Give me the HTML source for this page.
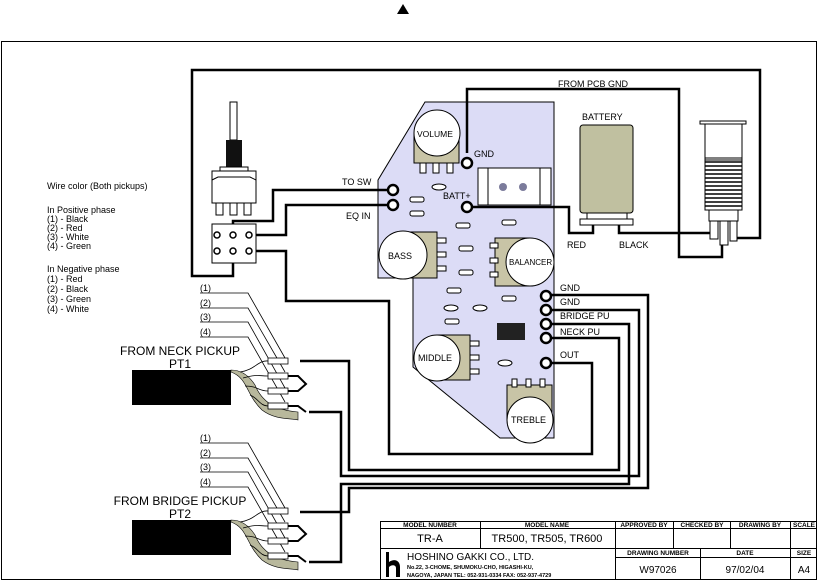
<!DOCTYPE html>
<html><head><meta charset="utf-8"><style>
html,body{margin:0;padding:0;background:#fff}
svg{display:block}
text{font-family:"Liberation Sans",sans-serif;fill:#000}
</style></head><body>
<svg width="818" height="581" viewBox="0 0 818 581" xmlns="http://www.w3.org/2000/svg">
<polygon points="403,4 409,14 397,14" fill="#000"/>
<rect x="1.5" y="41.5" width="815" height="538" fill="none" stroke="#000" stroke-width="1"/>

<!-- PCB -->
<polygon points="425,102 554,102 554,438 500,438 413,367 413,278 378,278 378,180" fill="#dcdcf6" stroke="#000" stroke-width="1"/>

<g fill="none" stroke="#000" stroke-width="2.5">
<!-- loop wire -->
<polyline points="233,262 233,276 192,276 192,70 760,70 760,238 735,238"/>
<!-- from pcb gnd -->
<polyline points="467,153 467,89 679,89 679,257 722,257 722,242"/>
<!-- batt+ red -->
<polyline points="467,207 569,207 569,233 593,233 593,224"/>
<!-- black -->
<polyline points="619,224 619,233 712,233"/>
<!-- to sw -->
<polyline points="391,190 273,190 273,221 233,221 233,235"/>
<!-- eq in -->
<polyline points="391,205 286,205 286,235 250,235"/>
<!-- switch lower right to out -->
<polyline points="250,251 286,251 286,301 389,301 389,454 592,454 592,363 548,363"/>
<!-- right pads -->
<polyline points="548,295 648,295 648,488 349,488 349,512 300,512"/>
<polyline points="548,310 639,310 639,476 341,476 341,412 309,412"/>
<polyline points="548,324 629,324 629,484 341,484 341,562 309,562"/>
<polyline points="548,338 619,338 619,470 349,470 349,361 300,361"/>
<line x1="214" y1="237" x2="214" y2="251"/>
</g>

<!-- switch -->
<rect x="230" y="102" width="7" height="38" fill="#fff" stroke="#000"/>
<rect x="226" y="140" width="16" height="30" fill="#111"/>
<rect x="220" y="167" width="28" height="5" fill="#fff" stroke="#000"/>
<rect x="212" y="171" width="44" height="32" fill="#fff" stroke="#000"/>
<polyline points="212,180 218,177 250,177 256,180" fill="none" stroke="#000"/>
<g fill="#fff" stroke="#000"><rect x="216" y="203" width="7" height="12"/><rect x="230" y="203" width="7" height="12"/><rect x="244" y="203" width="7" height="12"/></g>
<rect x="212" y="224" width="44" height="39" fill="#fff" stroke="#000"/>
<g fill="#fff" stroke="#000" stroke-width="1.5"><circle cx="217" cy="235" r="3"/><circle cx="233" cy="235" r="3"/><circle cx="249" cy="235" r="3"/><circle cx="217" cy="251" r="3"/><circle cx="233" cy="251" r="3"/><circle cx="249" cy="251" r="3"/></g>

<!-- PCB components -->
<g fill="#c8c4a6" stroke="#000">
<rect x="414" y="133" width="45" height="30"/>
<rect x="403" y="232" width="34" height="46"/>
<rect x="495" y="238" width="35" height="48"/>
<rect x="437" y="335" width="33" height="45"/>
<rect x="507" y="385" width="45" height="35"/>
</g>
<g fill="#fff" stroke="#000">
<rect x="420" y="163" width="6" height="10"/><rect x="433" y="163" width="6" height="10"/><rect x="447" y="163" width="6" height="10"/>
<rect x="437" y="238" width="9" height="5"/><rect x="437" y="252" width="9" height="5"/><rect x="437" y="266" width="9" height="5"/>
<rect x="490" y="243" width="8" height="5"/><rect x="490" y="258" width="8" height="5"/><rect x="490" y="272" width="8" height="5"/>
<rect x="470" y="341" width="9" height="5"/><rect x="470" y="355" width="9" height="5"/><rect x="470" y="369" width="9" height="5"/>
<rect x="512" y="379" width="5" height="8"/><rect x="526" y="379" width="5" height="8"/><rect x="540" y="379" width="5" height="8"/>
<circle cx="437" cy="133" r="23"/>
<circle cx="403" cy="255" r="24"/>
<circle cx="530" cy="262" r="24"/>
<circle cx="437" cy="358" r="23"/>
<circle cx="530" cy="420" r="23"/>
<rect x="478" y="168" width="73" height="37"/>
<line x1="488" y1="168" x2="488" y2="205"/><line x1="540" y1="168" x2="540" y2="205"/>
<ellipse cx="439" cy="187" rx="7" ry="3"/><ellipse cx="451" cy="308" rx="7" ry="3"/><ellipse cx="480" cy="308" rx="7" ry="3"/><ellipse cx="505" cy="363" rx="7" ry="3"/>
</g>
<circle cx="503" cy="187" r="4" fill="#7b7b9b"/><circle cx="523" cy="187" r="4" fill="#7b7b9b"/>
<rect x="497" y="323" width="28" height="17" fill="#222"/>
<g fill="#fff" stroke="#000" stroke-width="1">
<rect x="410" y="197" width="14" height="5" rx="2"/><rect x="410" y="211" width="14" height="5" rx="2"/>
<rect x="456" y="223" width="14" height="5" rx="2"/><rect x="502" y="220" width="14" height="5" rx="2"/>
<rect x="459" y="246" width="14" height="5" rx="2"/><rect x="459" y="270" width="14" height="5" rx="2"/>
<rect x="447" y="288" width="14" height="5" rx="2"/><rect x="502" y="296" width="14" height="5" rx="2"/>
<rect x="445" y="319" width="14" height="5" rx="2"/>
</g>
<g fill="#fff" stroke="#000" stroke-width="2.5">
<circle cx="393" cy="190" r="5"/><circle cx="393" cy="205" r="5"/><circle cx="467" cy="163" r="5"/><circle cx="467" cy="207" r="5"/>
<circle cx="546" cy="296" r="5"/><circle cx="546" cy="310" r="5"/><circle cx="546" cy="324" r="5"/><circle cx="546" cy="338" r="5"/><circle cx="546" cy="363" r="5"/>
</g>

<!-- battery -->
<rect x="580" y="125" width="53" height="88" rx="3" fill="#c0c0a0" stroke="#000"/>
<rect x="587" y="213" width="40" height="6" fill="#fff" stroke="#000"/>
<rect x="580" y="219" width="53" height="6" fill="#fff" stroke="#000"/>
<!-- jack -->
<rect x="700" y="121" width="46" height="3" fill="#fff" stroke="#000"/>
<rect x="705" y="124" width="37" height="36" fill="#fff" stroke="#000"/>
<g stroke="#000" stroke-width="1.6"><line x1="705" y1="162" x2="742" y2="162"/><line x1="705" y1="166" x2="742" y2="166"/><line x1="705" y1="170" x2="742" y2="170"/><line x1="705" y1="174" x2="742" y2="174"/><line x1="705" y1="178" x2="742" y2="178"/><line x1="705" y1="182" x2="742" y2="182"/><line x1="705" y1="186" x2="742" y2="186"/><line x1="705" y1="190" x2="742" y2="190"/><line x1="705" y1="194" x2="742" y2="194"/><line x1="705" y1="198" x2="742" y2="198"/><line x1="705" y1="202" x2="742" y2="202"/><line x1="705" y1="206" x2="742" y2="206"/></g>
<rect x="705" y="158" width="37" height="52" fill="none" stroke="#000"/>
<rect x="709" y="210" width="29" height="11" fill="#fff" stroke="#000"/>
<g fill="#fff" stroke="#000"><rect x="710" y="221" width="8" height="18"/><rect x="720" y="221" width="8" height="24"/><rect x="730" y="221" width="7" height="20"/></g>

<!-- pickups -->
<g id="pu">
<g fill="none" stroke="#000" stroke-width="0.8">
<polyline points="200,293 248,293 285,358"/><polyline points="200,308 248,308 285,372"/><polyline points="200,322 248,322 285,388"/><polyline points="200,337 248,337 285,402"/>
</g>
<rect x="132" y="370" width="99" height="35" fill="#000"/>
<path d="M231,372 C248,378 246,395 262,410 C275,420 290,418 298,420 L298,412 C275,410 262,402 255,385 C248,374 240,370 231,370 Z" fill="#b8b89c" stroke="#000" stroke-width="0.6"/>
<g fill="none" stroke="#000" stroke-width="0.8">
<path d="M240,372 C255,370 258,360 268,361"/><path d="M243,378 C258,374 258,376 268,376"/><path d="M245,386 C258,386 258,391 268,391"/><path d="M250,395 C258,398 260,406 268,406"/>
</g>
<g fill="#fff" stroke="#000" stroke-width="0.8"><rect x="268" y="358" width="20" height="6"/><rect x="268" y="373" width="20" height="6"/><rect x="268" y="388" width="20" height="6"/><rect x="268" y="403" width="20" height="6"/></g>
<polyline points="288,376 298,376 306,384 298,391 288,391" fill="none" stroke="#000" stroke-width="2"/>
<polyline points="288,406 298,406 306,412" fill="none" stroke="#000" stroke-width="2"/>
</g>
<use href="#pu" y="150"/>

<!-- labels -->
<g font-size="9">
<text x="47" y="189">Wire color (Both pickups)</text>
<text x="47" y="213">In Positive phase</text>
<text x="47" y="222">(1) - Black</text><text x="47" y="231">(2) - Red</text><text x="47" y="240">(3) - White</text><text x="47" y="249">(4) - Green</text>
<text x="47" y="272">In Negative phase</text>
<text x="47" y="282">(1) - Red</text><text x="47" y="292">(2) - Black</text><text x="47" y="302">(3) - Green</text><text x="47" y="312">(4) - White</text>
<text x="200" y="291">(1)</text><text x="200" y="306">(2)</text><text x="200" y="320">(3)</text><text x="200" y="335">(4)</text>
<text x="200" y="441">(1)</text><text x="200" y="456">(2)</text><text x="200" y="470">(3)</text><text x="200" y="485">(4)</text>
<text x="342" y="185">TO SW</text><text x="346" y="219">EQ IN</text>
<text x="474" y="157">GND</text><text x="443" y="199">BATT+</text>
<text x="558" y="87">FROM PCB GND</text><text x="582" y="120">BATTERY</text>
<text x="567" y="248">RED</text><text x="619" y="248">BLACK</text>
<text x="560" y="291">GND</text><text x="560" y="305">GND</text><text x="560" y="319">BRIDGE PU</text><text x="560" y="335">NECK PU</text><text x="560" y="358">OUT</text>
<text x="417" y="137" font-size="8.5">VOLUME</text><text x="388" y="259">BASS</text><text x="509" y="265" font-size="8">BALANCER</text>
<text x="418" y="361">MIDDLE</text><text x="511" y="423">TREBLE</text>
</g>
<g font-size="12" text-anchor="middle">
<text x="180" y="355">FROM NECK PICKUP</text><text x="180" y="368">PT1</text>
<text x="180" y="505">FROM BRIDGE PICKUP</text><text x="180" y="518">PT2</text>
</g>

<!-- title block -->
<g fill="none" stroke="#000" stroke-width="1">
<rect x="380.5" y="521.5" width="436" height="58"/>
<line x1="380" y1="528.5" x2="817" y2="528.5"/>
<line x1="380" y1="548.5" x2="817" y2="548.5"/>
<line x1="615" y1="557.5" x2="817" y2="557.5"/>
<line x1="480.5" y1="521" x2="480.5" y2="548"/>
<line x1="615.5" y1="521" x2="615.5" y2="580"/>
<line x1="673.5" y1="521" x2="673.5" y2="548"/>
<line x1="730.5" y1="521" x2="730.5" y2="548"/>
<line x1="790.5" y1="521" x2="790.5" y2="580"/>
<line x1="700.5" y1="548" x2="700.5" y2="580"/>
</g>
<g font-size="6.5" font-weight="bold" text-anchor="middle">
<text x="430" y="527">MODEL NUMBER</text><text x="547" y="527">MODEL NAME</text><text x="644" y="527">APPROVED BY</text><text x="702" y="527">CHECKED BY</text><text x="760" y="527">DRAWING BY</text><text x="804" y="527">SCALE</text>
<text x="658" y="555">DRAWING NUMBER</text><text x="745" y="555">DATE</text><text x="804" y="555">SIZE</text>
</g>
<g font-size="11" text-anchor="middle"><text x="430" y="542">TR-A</text><text x="547" y="542">TR500, TR505, TR600</text>
<text x="658" y="573" font-size="10">W97026</text><text x="745" y="573" font-size="10">97/02/04</text><text x="804" y="573" font-size="10">A4</text></g>
<path d="M386,552 h3 v10 c6,-4 11,-1 11,5 v10 h-4 v-9 c0,-3 -4,-4 -7,-1 v10 h-3 z" fill="#000"/>
<text x="407" y="560" font-size="10">HOSHINO GAKKI CO., LTD.</text>
<text x="407" y="569" font-size="5.5" font-weight="bold">No.22, 3-CHOME, SHUMOKU-CHO, HIGASHI-KU,</text>
<text x="407" y="577" font-size="5.5" font-weight="bold">NAGOYA, JAPAN    TEL: 052-931-0334  FAX: 052-937-4729</text>
</svg>
</body></html>
